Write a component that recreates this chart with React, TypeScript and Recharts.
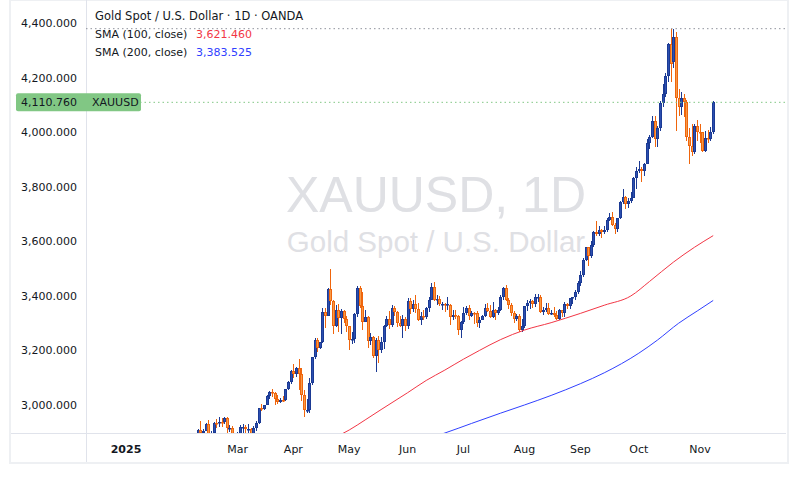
import React from 'react';
import { ComposedChart, Bar, Line, XAxis, YAxis, ReferenceLine } from 'recharts';

// trading-day index of the first candle below (Feb 3, 2025; Jan 2 is index 0)
const FIRST_BAR = 22;

// daily candles, [open, high, low, close]
const feb: number[][] = [
  [2800, 2830, 2772, 2815], [2815, 2845, 2810, 2842], [2842, 2882, 2838, 2866], [2866, 2870, 2834, 2856],
  [2856, 2886, 2853, 2861], [2862, 2911, 2860, 2907], [2907, 2942, 2880, 2898], [2898, 2910, 2864, 2905],
  [2905, 2935, 2904, 2929], [2929, 2945, 2877, 2882], [2882, 2906, 2880, 2898], [2898, 2938, 2888, 2935],
  [2935, 2947, 2915, 2933], [2933, 2954, 2920, 2939], [2939, 2953, 2919, 2936], [2936, 2956, 2930, 2952],
  [2952, 2954, 2888, 2915], [2915, 2927, 2902, 2916], [2916, 2921, 2875, 2876], [2876, 2882, 2832, 2857],
];
const mar: number[][] = [
  [2857, 2901, 2844, 2893], [2893, 2927, 2881, 2918], [2918, 2930, 2894, 2920], [2920, 2926, 2896, 2910],
  [2910, 2930, 2893, 2911], [2910, 2914, 2880, 2889], [2889, 2921, 2880, 2916], [2916, 2941, 2906, 2934],
  [2934, 2990, 2930, 2988], [2988, 3005, 2977, 2984], [2984, 3001, 2982, 3001], [3001, 3038, 2999, 3034],
  [3034, 3050, 3023, 3047], [3047, 3057, 3030, 3044], [3044, 3047, 2999, 3022], [3022, 3036, 3002, 3011],
  [3011, 3024, 3006, 3020], [3020, 3033, 3012, 3019], [3019, 3060, 3016, 3057], [3057, 3087, 3054, 3085],
  [3085, 3128, 3076, 3123],
];
const apr: number[][] = [
  [3123, 3149, 3100, 3113], [3113, 3140, 3101, 3134], [3134, 3168, 3054, 3114], [3114, 3136, 3015, 3037],
  [3037, 3055, 2956, 2982], [2978, 3022, 2970, 2983], [2983, 3099, 2970, 3082], [3082, 3176, 3073, 3175],
  [3175, 3245, 3170, 3237], [3237, 3245, 3194, 3210], [3210, 3232, 3204, 3230], [3230, 3357, 3228, 3343],
  [3343, 3357, 3284, 3327], [3327, 3430, 3325, 3424], [3424, 3500, 3367, 3381], [3381, 3386, 3260, 3288],
  [3288, 3367, 3287, 3349], [3349, 3370, 3266, 3319], [3319, 3352, 3261, 3344], [3344, 3349, 3300, 3316],
  [3316, 3328, 3268, 3288],
];
const may: number[][] = [
  [3288, 3291, 3202, 3239], [3239, 3269, 3222, 3241], [3241, 3336, 3226, 3334], [3334, 3437, 3323, 3431],
  [3431, 3435, 3357, 3364], [3364, 3414, 3275, 3306], [3306, 3347, 3305, 3324], [3324, 3326, 3208, 3236],
  [3236, 3265, 3220, 3249], [3249, 3253, 3173, 3178], [3178, 3245, 3121, 3240], [3240, 3252, 3153, 3201],
  [3201, 3250, 3189, 3230], [3230, 3295, 3205, 3290], [3290, 3325, 3285, 3314], [3314, 3345, 3279, 3294],
  [3294, 3366, 3287, 3357], [3357, 3365, 3325, 3342], [3342, 3346, 3285, 3301], [3301, 3325, 3286, 3289],
  [3289, 3331, 3245, 3317], [3317, 3322, 3271, 3289],
];
const jun: number[][] = [
  [3289, 3392, 3280, 3381], [3381, 3392, 3333, 3353], [3353, 3385, 3343, 3372], [3372, 3404, 3339, 3352],
  [3352, 3375, 3307, 3310], [3310, 3340, 3293, 3325], [3325, 3349, 3311, 3322], [3322, 3360, 3317, 3355],
  [3355, 3397, 3340, 3386], [3386, 3446, 3385, 3433], [3433, 3452, 3383, 3385], [3385, 3403, 3367, 3389],
  [3389, 3399, 3362, 3369], [3369, 3377, 3347, 3370], [3369, 3375, 3340, 3368], [3368, 3398, 3347, 3369],
  [3368, 3370, 3295, 3323], [3323, 3347, 3312, 3332], [3332, 3350, 3317, 3327], [3327, 3329, 3255, 3274],
  [3274, 3309, 3247, 3303],
];
const jul: number[][] = [
  [3303, 3358, 3296, 3338], [3338, 3365, 3329, 3357], [3357, 3366, 3311, 3326], [3326, 3345, 3322, 3337],
  [3337, 3342, 3296, 3336], [3336, 3346, 3287, 3302], [3302, 3323, 3283, 3313], [3313, 3330, 3310, 3325],
  [3325, 3369, 3322, 3355], [3355, 3375, 3342, 3344], [3344, 3366, 3320, 3324], [3324, 3377, 3319, 3347],
  [3347, 3352, 3310, 3338], [3338, 3361, 3332, 3350], [3350, 3402, 3345, 3397], [3397, 3434, 3384, 3431],
  [3431, 3439, 3381, 3387], [3387, 3393, 3351, 3368], [3368, 3373, 3325, 3336], [3336, 3345, 3301, 3314],
  [3314, 3334, 3307, 3326], [3326, 3334, 3268, 3274], [3274, 3315, 3268, 3289],
];
const aug: number[][] = [
  [3289, 3363, 3281, 3363], [3363, 3385, 3345, 3373], [3373, 3390, 3352, 3380], [3380, 3384, 3357, 3369],
  [3369, 3409, 3361, 3396], [3396, 3409, 3378, 3398], [3398, 3404, 3338, 3341], [3341, 3358, 3331, 3348],
  [3348, 3375, 3343, 3356], [3356, 3374, 3330, 3335], [3335, 3349, 3331, 3336], [3336, 3358, 3323, 3332],
  [3332, 3345, 3311, 3315], [3315, 3351, 3312, 3347], [3347, 3350, 3324, 3339], [3339, 3379, 3322, 3371],
  [3371, 3376, 3351, 3365], [3365, 3394, 3352, 3393], [3393, 3398, 3369, 3397], [3397, 3423, 3386, 3416],
  [3416, 3454, 3408, 3448],
];
const sep: number[][] = [
  [3448, 3490, 3436, 3476], [3476, 3540, 3470, 3533], [3533, 3579, 3528, 3578], [3578, 3580, 3511, 3545],
  [3545, 3600, 3540, 3586], [3586, 3638, 3579, 3636], [3636, 3674, 3621, 3626], [3626, 3656, 3620, 3641],
  [3641, 3644, 3614, 3634], [3634, 3655, 3628, 3643], [3643, 3686, 3633, 3679], [3679, 3703, 3674, 3689],
  [3689, 3707, 3655, 3659], [3659, 3666, 3628, 3644], [3644, 3688, 3633, 3685], [3685, 3749, 3684, 3746],
  [3746, 3791, 3739, 3764], [3764, 3768, 3718, 3736], [3736, 3761, 3722, 3749], [3749, 3783, 3740, 3760],
  [3760, 3835, 3758, 3833], [3833, 3872, 3793, 3858],
];
const oct: number[][] = [
  [3858, 3895, 3850, 3866], [3866, 3875, 3820, 3857], [3857, 3889, 3840, 3886], [3886, 3977, 3884, 3960],
  [3960, 3991, 3940, 3985], [3985, 4059, 3980, 4041], [4041, 4059, 3948, 3975], [3975, 4022, 3945, 4018],
  [4018, 4116, 4007, 4110], [4110, 4179, 4092, 4142], [4142, 4218, 4130, 4208], [4208, 4329, 4187, 4326],
  [4326, 4379, 4186, 4251], [4258, 4381, 4236, 4350], [4350, 4368, 4004, 4125], [4125, 4161, 4060, 4095],
  [4095, 4150, 4065, 4126], [4126, 4143, 4057, 4113], [4113, 4120, 3970, 3982], [3982, 4015, 3886, 3952],
  [3952, 4030, 3915, 3930], [3930, 4030, 3920, 4024], [4024, 4046, 3968, 4002],
];
const nov: number[][] = [
  [4002, 4030, 3962, 4000], [4000, 4001, 3929, 3932], [3932, 4006, 3929, 3980], [3980, 4010, 3960, 3977],
  [3977, 4019, 3969, 4000], [4000, 4115, 3994, 4110.76],
];

// moving averages at a few bars
const sma100Bars = [78, 84, 90, 96, 106, 113, 120, 127, 133, 141, 150, 160, 171, 180, 190, 197, 206, 214, 221];
const sma100Vals = [2878, 2908, 2945, 2983, 3045, 3090, 3128, 3168, 3200, 3240, 3275, 3302, 3336, 3366, 3400, 3453, 3524, 3579, 3621.46];
const sma200Bars = [112, 120, 130, 141, 150, 160, 171, 180, 193, 200, 208, 215, 221];
const sma200Vals = [2872, 2897, 2932, 2970, 3000, 3035, 3078, 3118, 3190, 3238, 3300, 3345, 3383.525];

const monthTicks = [0, 42, 63, 84, 106, 127, 150, 171, 193, 216];
const monthLabels = ['2025', 'Mar', 'Apr', 'May', 'Jun', 'Jul', 'Aug', 'Sep', 'Oct', 'Nov'];
const priceTicks = [3000, 3200, 3400, 3600, 3800, 4000, 4200, 4400];

const UP_EDGE = '#1b3a94';
const UP_FILL = '#2c4fb0';
const DOWN_EDGE = '#ef650c';
const DOWN_FILL = '#f69a48';
const SMA100_COLOR = '#f23645';
const SMA200_COLOR = '#3040ff';
const TEXT = '#131722';
const FONT = '"DejaVu Sans", sans-serif';

const candles = [feb, mar, apr, may, jun, jul, aug, sep, oct, nov].flat();
const rows = candles.map(([open, high, low, close], i) => {
  const idx = FIRST_BAR + i;
  const a = sma100Bars.indexOf(idx);
  const b = sma200Bars.indexOf(idx);
  return {
    idx, open, high, low, close,
    range: [low, high],
    sma100: a >= 0 ? sma100Vals[a] : null,
    sma200: b >= 0 ? sma200Vals[b] : null,
  };
});

const lastClose = candles[candles.length - 1][3];
const periodHigh = Math.max(...candles.map((c) => c[1]));
const fmt = (v: number) => v.toLocaleString('en-US', { minimumFractionDigits: 3, maximumFractionDigits: 3 });

const Candle = (props: any) => {
  const { x, y, width, height, payload } = props;
  if (x == null || y == null) return null;
  const top = Math.min(y, y + height);
  const h = Math.abs(height);
  const { open, high, low, close } = payload;
  const up = close >= open;
  const per = high === low ? 0 : h / (high - low);
  const yO = top + (high - open) * per;
  const yC = top + (high - close) * per;
  const cx = Math.round(x + width / 2);
  const edge = up ? UP_EDGE : DOWN_EDGE;
  const bTop = Math.round(Math.min(yO, yC));
  const bBot = Math.max(Math.round(Math.max(yO, yC)), bTop + 1);
  return (
    <g>
      <line x1={cx + 0.5} x2={cx + 0.5} y1={Math.round(top)} y2={Math.round(top + h)} stroke={edge} strokeWidth={1} />
      <rect x={cx - 0.5} y={bTop + 0.5} width={2} height={Math.max(bBot - bTop - 1, 0.5)}
        fill={up ? UP_FILL : DOWN_FILL} stroke={edge} strokeWidth={1} />
    </g>
  );
};

const MonthTick = (props: any) => {
  const { x, y, payload } = props;
  const i = monthTicks.indexOf(payload.value);
  return (
    <text x={x} y={y} dy="0.71em" textAnchor="middle" fontSize={11} fontFamily={FONT}
      fontWeight={i === 0 ? 'bold' : 'normal'} fill={TEXT}>
      {monthLabels[i]}
    </text>
  );
};

const PriceTag = (props: any) => {
  const { x, y } = props.viewBox;
  return (
    <g>
      <rect x={x - 70} y={y - 9} width={125} height={18} rx={2} fill="#81c784" />
      <text x={x - 9} y={y} dy="0.355em" textAnchor="end" fontSize={11} fontFamily={FONT} fill={TEXT}>
        {fmt(lastClose)}
      </text>
      <text x={x + 6} y={y} dy="0.355em" fontSize={11} fontFamily={FONT} fill={TEXT}>XAUUSD</text>
    </g>
  );
};

const abs = (s: React.CSSProperties): React.CSSProperties => ({ position: 'absolute', ...s });

export default function App() {
  return (
    <div style={abs({ left: 0, top: 0, width: 798, height: 477, background: '#fff', fontFamily: FONT, color: TEXT })}>
      {/* frame and pane separators */}
      <div style={abs({ left: 9, top: 0, width: 780, height: 464, boxSizing: 'border-box', border: '2px solid #eef0f3', borderTopWidth: 1 })} />
      <div style={abs({ left: 86, top: 0, width: 1, height: 462, background: '#e0e3eb' })} />
      <div style={abs({ left: 11, top: 433, width: 775, height: 1, background: '#e0e3eb' })} />

      {/* watermark */}
      <div style={abs({ left: 86, top: 170, width: 700, textAlign: 'center', fontFamily: '"Liberation Sans", Arial, sans-serif', fontSize: 50, lineHeight: 1, color: '#dfe0e4' })}>
        XAUUSD, 1D
      </div>
      <div style={abs({ left: 86, top: 227, width: 700, textAlign: 'center', fontFamily: '"Liberation Sans", Arial, sans-serif', fontSize: 29.5, lineHeight: 1, color: '#dfe0e4' })}>
        Gold Spot / U.S. Dollar
      </div>

      <div style={abs({ left: 10, top: 0 })}>
        <ComposedChart width={776} height={463} data={rows} margin={{ top: 1, right: 0, bottom: 0, left: 0 }}>
          <XAxis dataKey="idx" type="number" domain={[-15.05, 248.4]} ticks={monthTicks} interval={0}
            allowDataOverflow tick={<MonthTick />} tickLine={false} axisLine={false} height={30} tickMargin={6} />
          <YAxis type="number" domain={[2897.1, 4482.6]} ticks={priceTicks} interval={0} allowDataOverflow
            width={76} tickLine={false} axisLine={false} tickMargin={3} tickFormatter={fmt}
            tick={{ fontSize: 11, fill: TEXT, fontFamily: FONT }} />
          <ReferenceLine y={periodHigh} stroke="#8f939c" strokeDasharray="1.5 3" />
          <ReferenceLine y={lastClose} stroke="#81c784" strokeDasharray="1.5 3" label={<PriceTag />} />
          <Line dataKey="sma100" type="monotone" stroke={SMA100_COLOR} strokeWidth={1} dot={false}
            activeDot={false} connectNulls isAnimationActive={false} />
          <Line dataKey="sma200" type="monotone" stroke={SMA200_COLOR} strokeWidth={1} dot={false}
            activeDot={false} connectNulls isAnimationActive={false} />
          <Bar dataKey="range" barSize={3} shape={<Candle />} isAnimationActive={false} />
        </ComposedChart>
      </div>

      {/* legend */}
      <div style={abs({ left: 95, top: 9, fontSize: 11.5, lineHeight: '14px', whiteSpace: 'nowrap' })}>
        Gold Spot / U.S. Dollar · 1D · OANDA
      </div>
      <div style={abs({ left: 95, top: 27.5, fontSize: 11, lineHeight: '14px', whiteSpace: 'nowrap' })}>
        <span style={{ display: 'inline-block', width: 101 }}>SMA (100, close)</span>
        <span style={{ color: SMA100_COLOR }}>{fmt(sma100Vals[sma100Vals.length - 1])}</span>
      </div>
      <div style={abs({ left: 95, top: 46, fontSize: 11, lineHeight: '14px', whiteSpace: 'nowrap' })}>
        <span style={{ display: 'inline-block', width: 101 }}>SMA (200, close)</span>
        <span style={{ color: SMA200_COLOR }}>{fmt(sma200Vals[sma200Vals.length - 1])}</span>
      </div>
    </div>
  );
}
